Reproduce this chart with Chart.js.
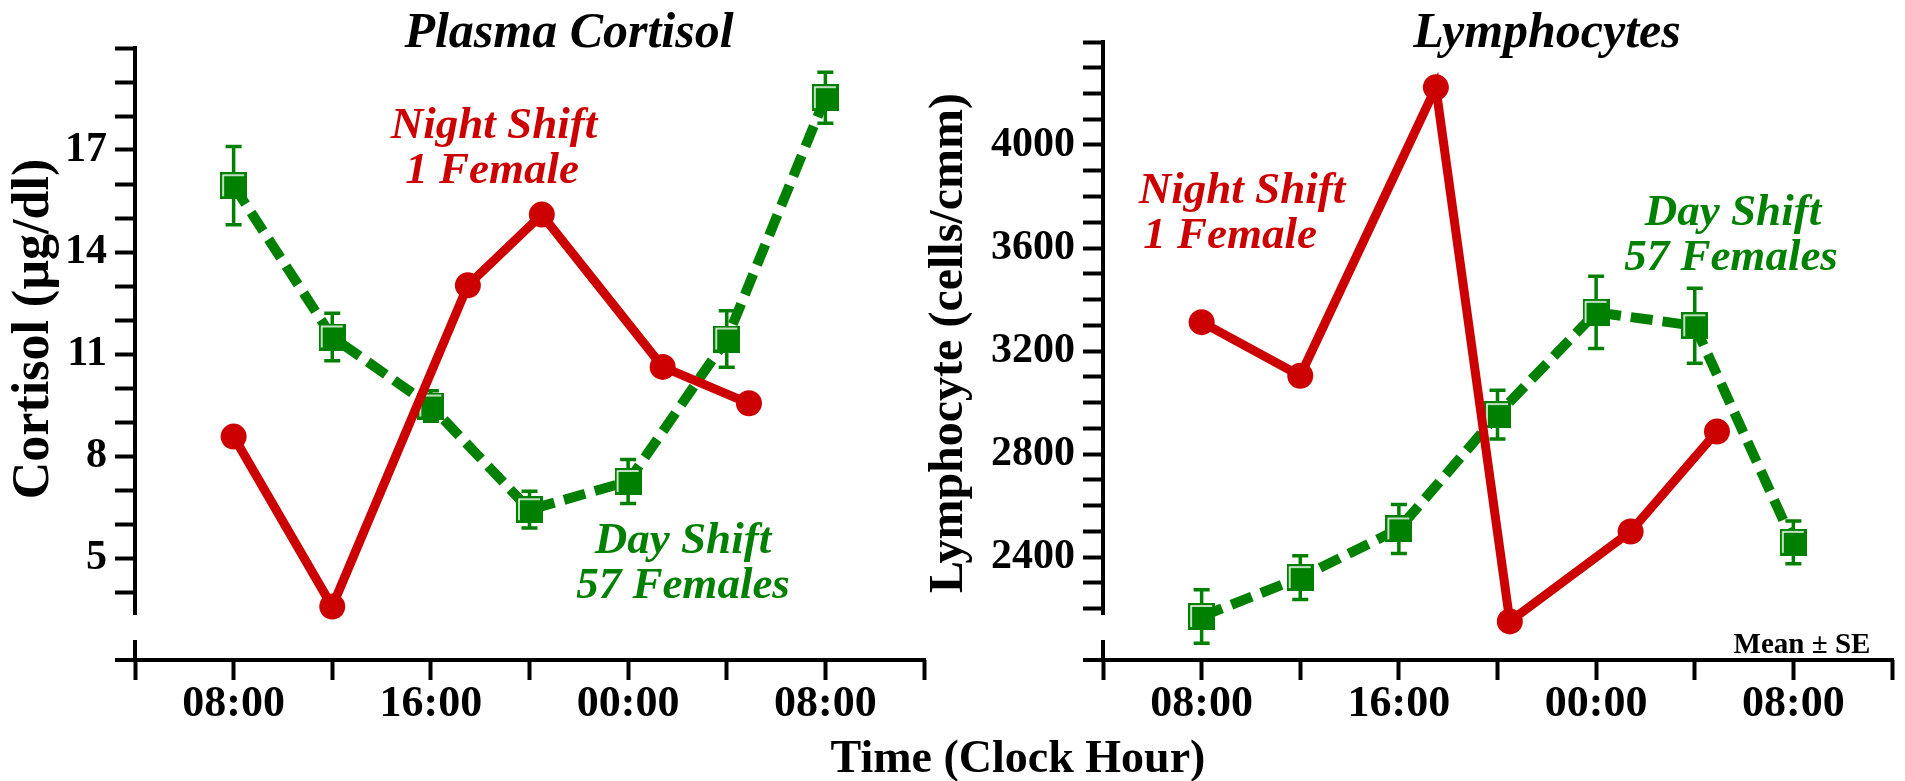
<!DOCTYPE html>
<html>
<head>
<meta charset="utf-8">
<script src="https://cdn.jsdelivr.net/npm/chart.js@4.4.1/dist/chart.umd.min.js"></script>
<style>
  html, body { margin: 0; padding: 0; background: #fff; }
  #wrap { position: relative; width: 1905px; height: 781px; }
  #wrap canvas { position: absolute; left: 0; top: 0; }
</style>
</head>
<body>
<div id="wrap">
  <canvas id="cortisol" width="1905" height="781"></canvas>
  <canvas id="lympho" width="1905" height="781"></canvas>
</div>
<script>
// sampling times in hours from midnight of day 1 (24 = 00:00, 32 = 08:00 next day)
var dayTimes = [8, 12, 16, 20, 24, 28, 32];
var nightTimes = [8, 12, 17.5, 20.5, 25.4, 28.9];

// plasma cortisol, ug/dl
var cortisolDay = [15.95, 11.5, 9.47, 6.42, 7.25, 11.44, 18.54];
var cortisolDaySE = [1.15, 0.7, 0.45, 0.54, 0.65, 0.83, 0.75];
var cortisolNight = [8.57, 3.57, 13.02, 15.1, 10.62, 9.55];

// lymphocytes, cells/cmm
var lymphoDay = [2169, 2320, 2509, 2953, 3350, 3298, 2457];
var lymphoDaySE = [104, 85, 95, 95, 140, 146, 83];
var lymphoNight = [3312, 3104, 4224, 2150, 2499, 2887];

// axis ticks and the ones that get a label
var timeTicks = [4, 8, 12, 16, 20, 24, 28, 32, 36];
var timeLabels = { 8: "08:00", 16: "16:00", 24: "00:00", 32: "08:00" };
var cortisolLabels = [5, 8, 11, 14, 17];
var lymphoLabels = [2400, 2800, 3200, 3600, 4000];

var RED = "#cc0000";
var GREEN = "#008000";
var SERIF = "'Liberation Serif', 'Times New Roman', serif";

function range(from, to, step) {
    var out = [];
    for (var v = from; v <= to; v += step) out.push({ value: v });
    return out;
}

function points(xs, ys) {
    return xs.map(function (t, i) { return { x: t, y: ys[i] }; });
}

// filled square with a thin white bevel on the top and left edge
function squareMarker(size, color) {
    var c = document.createElement("canvas");
    c.width = c.height = size;
    var g = c.getContext("2d");
    g.fillStyle = color;
    g.fillRect(0, 0, size, size);
    g.strokeStyle = "#ffffff";
    g.lineWidth = 1.5;
    g.beginPath();
    g.moveTo(3, size - 3);
    g.lineTo(3, 3);
    g.lineTo(size - 3, 3);
    g.stroke();
    return c;
}
var marker = squareMarker(27, GREEN);

// y axis with a break above the time axis, and the time axis itself
var axisLines = {
    id: "axisLines",
    beforeDatasetsDraw: function (chart) {
        var ctx = chart.ctx, a = chart.chartArea;
        ctx.save();
        ctx.strokeStyle = "#000";
        ctx.lineWidth = 4;
        ctx.beginPath();
        ctx.moveTo(a.left, a.top - 2);
        ctx.lineTo(a.left, a.bottom - 45);
        ctx.moveTo(a.left, a.bottom - 20);
        ctx.lineTo(a.left, a.bottom);
        ctx.moveTo(a.left - 20, a.bottom);
        ctx.lineTo(a.right + 2, a.bottom);
        ctx.stroke();
        ctx.restore();
    }
};

// mean +/- SE whiskers for datasets that carry an "errors" array
var errorBars = {
    id: "errorBars",
    beforeDatasetsDraw: function (chart) {
        var ctx = chart.ctx, x = chart.scales.x, y = chart.scales.y;
        chart.data.datasets.forEach(function (ds) {
            if (!ds.errors) return;
            ctx.save();
            ctx.strokeStyle = ds.borderColor;
            ctx.lineWidth = 3.5;
            ds.data.forEach(function (p, i) {
                var px = x.getPixelForValue(p.x);
                var top = y.getPixelForValue(p.y + ds.errors[i]);
                var bot = y.getPixelForValue(p.y - ds.errors[i]);
                ctx.beginPath();
                ctx.moveTo(px, top); ctx.lineTo(px, bot);
                ctx.moveTo(px - 8, top); ctx.lineTo(px + 8, top);
                ctx.moveTo(px - 8, bot); ctx.lineTo(px + 8, bot);
                ctx.stroke();
            });
            ctx.restore();
        });
    }
};

// titles, group labels and axis titles
var textLabels = {
    id: "textLabels",
    afterDraw: function (chart, args, opts) {
        var ctx = chart.ctx;
        (opts.items || []).forEach(function (it) {
            ctx.save();
            ctx.font = it.font + " " + SERIF;
            ctx.fillStyle = it.color || "#000";
            ctx.textAlign = "center";
            ctx.textBaseline = "alphabetic";
            ctx.translate(it.x, it.y);
            if (it.rotate) ctx.rotate(it.rotate);
            ctx.fillText(it.text, 0, 0);
            ctx.restore();
        });
    }
};

function makeChart(id, cfg) {
    return new Chart(document.getElementById(id).getContext("2d"), {
        type: "line",
        data: {
            datasets: [
                {
                    label: "Night Shift",
                    data: points(nightTimes, cfg.night),
                    borderColor: RED,
                    backgroundColor: RED,
                    borderWidth: 9,
                    pointRadius: 13,
                    pointHoverRadius: 13,
                    pointBackgroundColor: RED,
                    pointBorderWidth: 0,
                },
                {
                    label: "Day Shift",
                    data: points(dayTimes, cfg.day),
                    errors: cfg.se,
                    borderColor: GREEN,
                    backgroundColor: GREEN,
                    borderWidth: 10,
                    borderDash: [22, 10],
                    pointStyle: marker,
                    pointRadius: 13,
                },
            ],
        },
        options: {
            responsive: false,
            animation: false,
            events: [],
            layout: { autoPadding: false, padding: cfg.padding },
            plugins: {
                legend: { display: false },
                tooltip: { enabled: false },
                textLabels: { items: cfg.texts },
            },
            scales: {
                x: {
                    type: "linear",
                    min: 4,
                    max: 36,
                    afterFit: function (s) { s.height = 100; },
                    afterBuildTicks: function (s) { s.ticks = timeTicks.map(function (v) { return { value: v }; }); },
                    border: { display: false },
                    grid: { drawOnChartArea: false, tickLength: 20, tickWidth: 4, tickColor: "#000" },
                    ticks: {
                        autoSkip: false,
                        maxRotation: 0,
                        padding: -2,
                        color: "#000",
                        font: { family: SERIF, size: 44, weight: "bold" },
                        callback: function (v) { return timeLabels[v] || ""; },
                    },
                },
                y: {
                    min: cfg.yMin,
                    max: cfg.yMax,
                    afterFit: function (s) { s.width = 125; },
                    afterBuildTicks: function (s) { s.ticks = cfg.yTicks; },
                    border: { display: false },
                    grid: { drawOnChartArea: false, tickLength: 20, tickWidth: 4, tickColor: "#000" },
                    ticks: {
                        autoSkip: false,
                        padding: 8,
                        color: "#000",
                        font: { family: SERIF, size: 42, weight: "bold" },
                        callback: function (v) { return cfg.yLabels.indexOf(v) >= 0 ? String(v) : ""; },
                    },
                },
            },
        },
        plugins: [axisLines, errorBars, textLabels],
    });
}

makeChart("cortisol", {
    night: cortisolNight,
    day: cortisolDay,
    se: cortisolDaySE,
    yMin: 2,
    yMax: 20,
    yTicks: range(4, 20, 1),
    yLabels: cortisolLabels,
    padding: { left: 10, right: 981, top: 48, bottom: 21 },
    texts: [
        { text: "Plasma Cortisol", x: 569, y: 47, font: "italic bold 50px" },
        { text: "Night Shift", x: 494, y: 138, font: "italic bold 45px", color: RED },
        { text: "1 Female", x: 492, y: 183, font: "italic bold 45px", color: RED },
        { text: "Day Shift", x: 683, y: 553, font: "italic bold 45px", color: GREEN },
        { text: "57 Females", x: 683, y: 598, font: "italic bold 45px", color: GREEN },
        { text: "Cortisol (µg/dl)", x: 48, y: 329, font: "bold 52px", rotate: -Math.PI / 2 },
        { text: "Time (Clock Hour)", x: 1018, y: 772, font: "bold 46px" },
    ],
});

makeChart("lympho", {
    night: lymphoNight,
    day: lymphoDay,
    se: lymphoDaySE,
    yMin: 2000,
    yMax: 4400,
    yTicks: range(2200, 4400, 100),
    yLabels: lymphoLabels,
    padding: { left: 978, right: 13, top: 42, bottom: 21 },
    texts: [
        { text: "Lymphocytes", x: 1547, y: 47, font: "italic bold 50px" },
        { text: "Night Shift", x: 1242, y: 203, font: "italic bold 45px", color: RED },
        { text: "1 Female", x: 1230, y: 248, font: "italic bold 45px", color: RED },
        { text: "Day Shift", x: 1733, y: 225, font: "italic bold 45px", color: GREEN },
        { text: "57 Females", x: 1731, y: 270, font: "italic bold 45px", color: GREEN },
        { text: "Lymphocyte (cells/cmm)", x: 962, y: 343, font: "bold 48px", rotate: -Math.PI / 2 },
        { text: "Mean ± SE", x: 1802, y: 653, font: "bold 29px" },
    ],
});
</script>
</body>
</html>
